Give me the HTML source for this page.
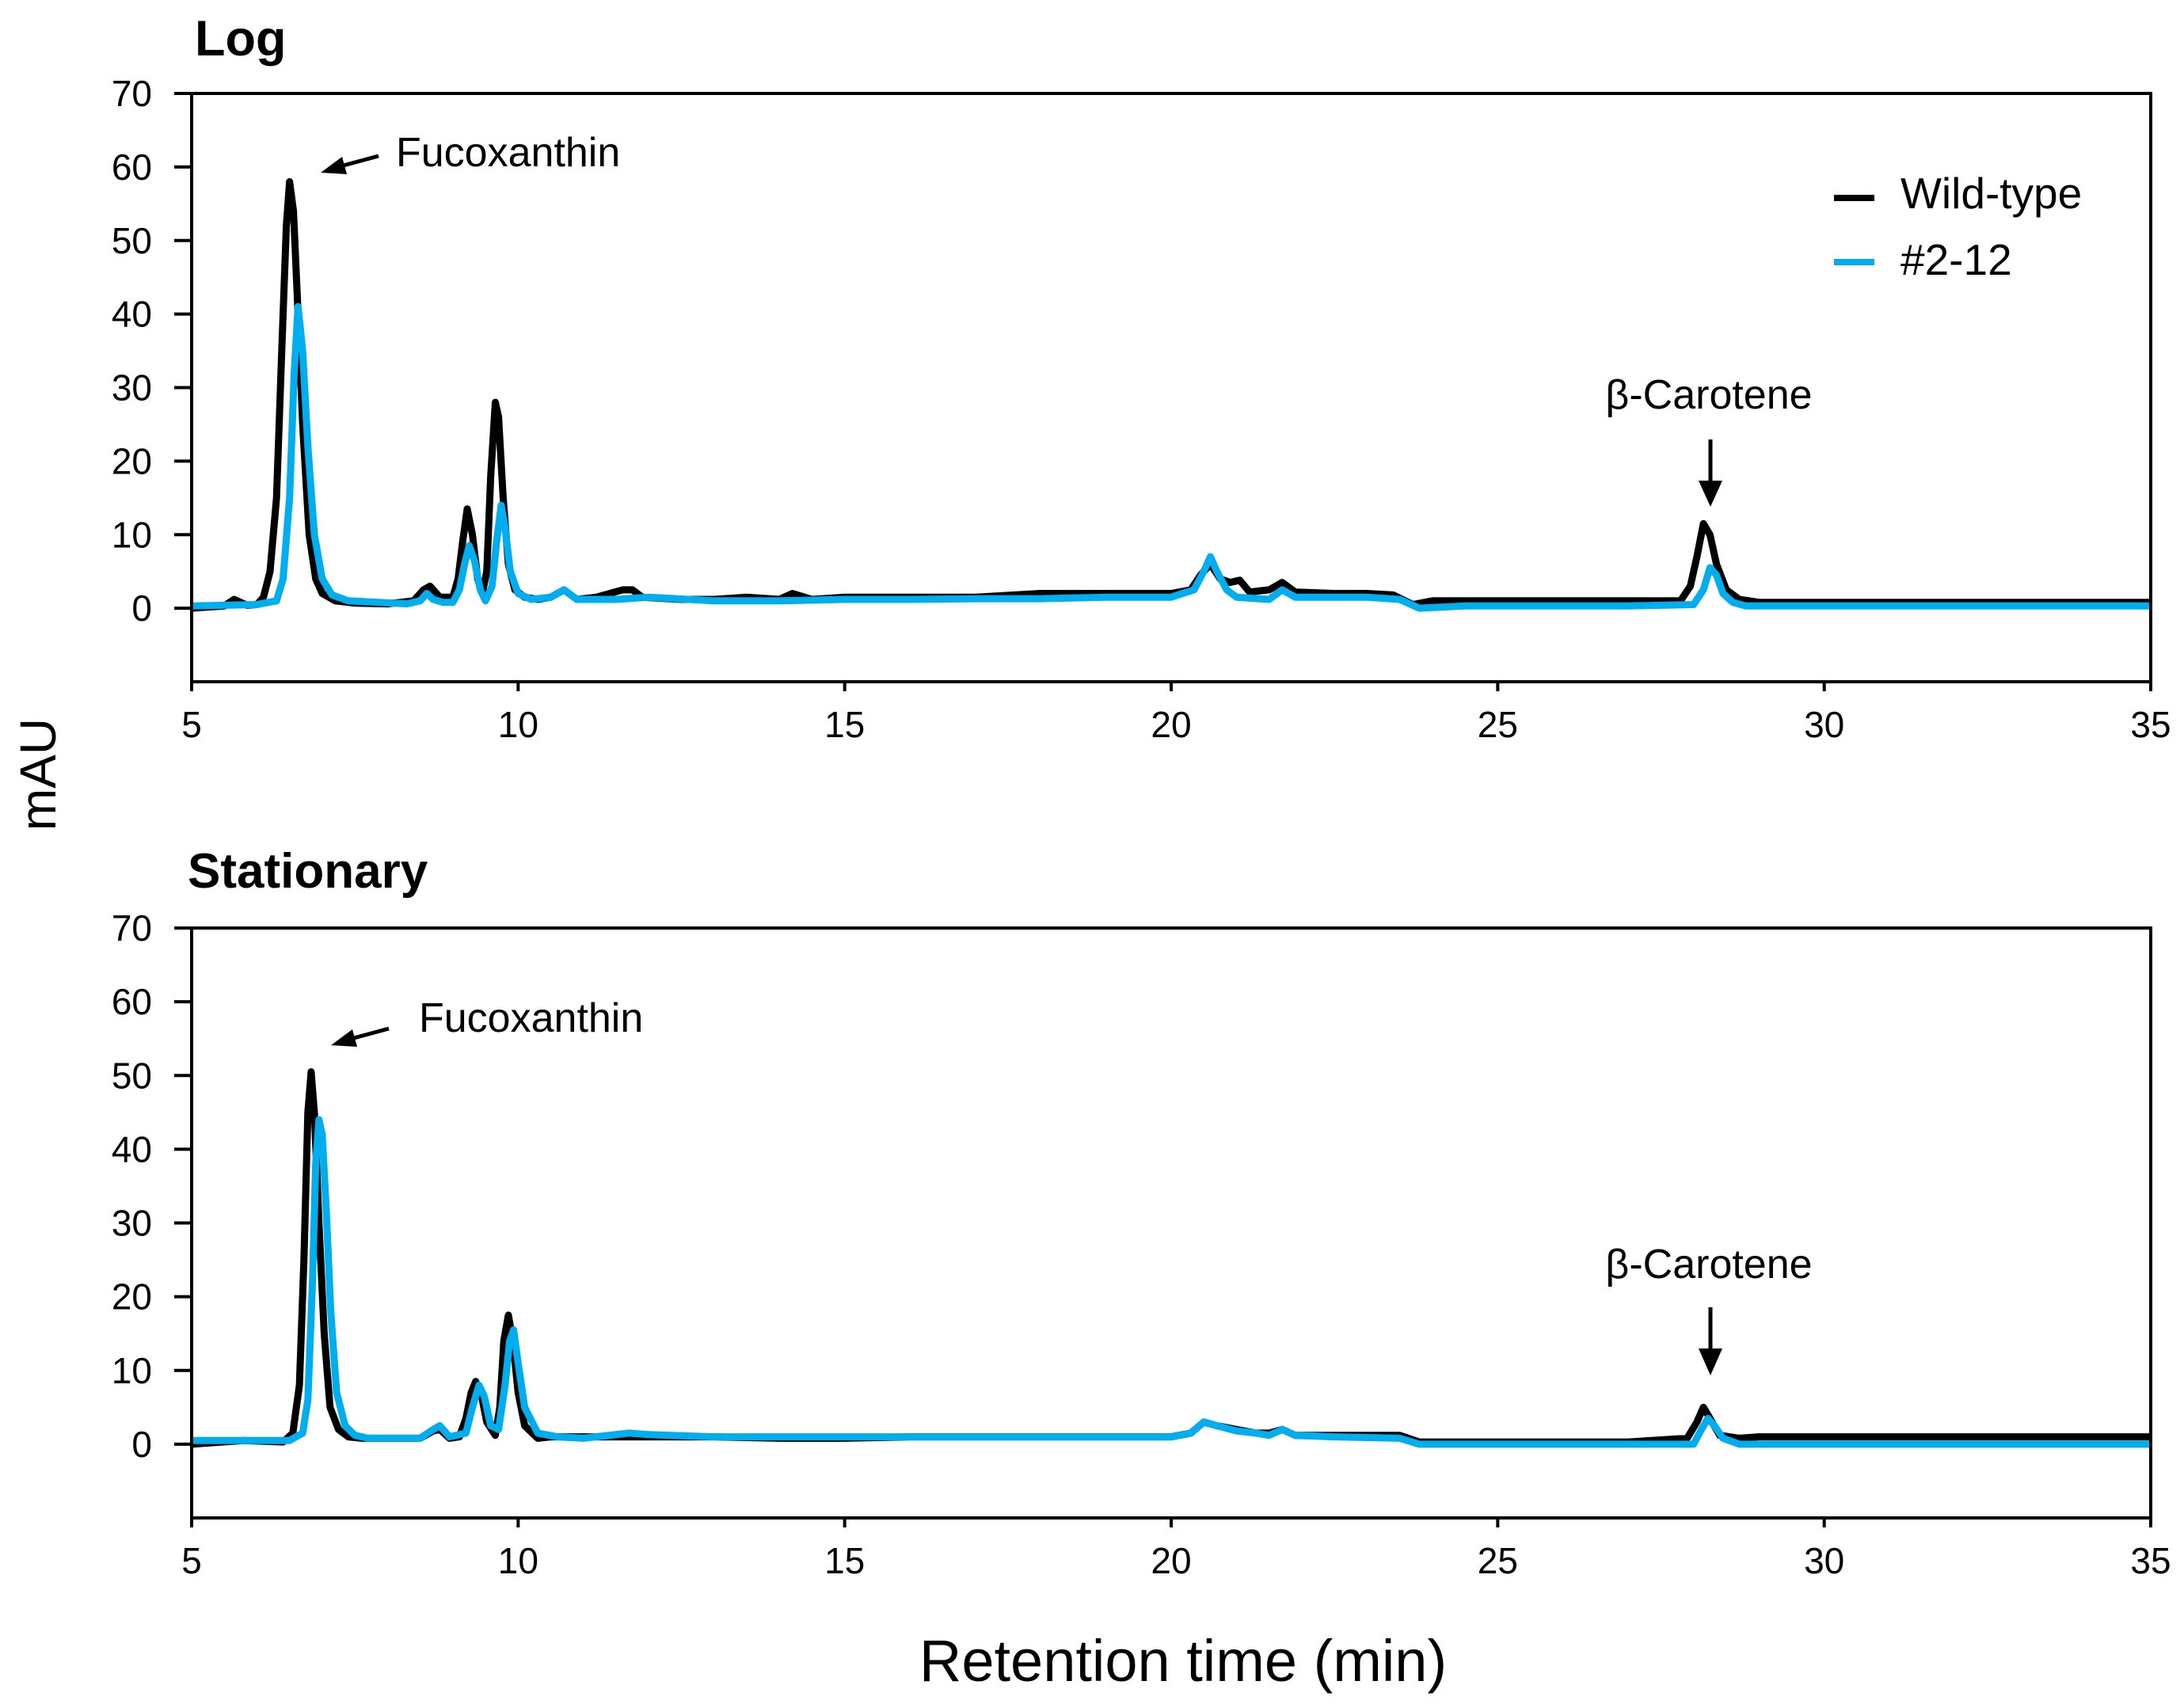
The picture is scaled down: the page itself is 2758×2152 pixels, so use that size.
<!DOCTYPE html>
<html><head><meta charset="utf-8"><style>
html,body{margin:0;padding:0;background:#fff;}
svg{display:block;font-family:"Liberation Sans",sans-serif;}
</style></head><body>
<svg id="chart" width="2758" height="2152" viewBox="0 0 2758 2152" xmlns="http://www.w3.org/2000/svg">
<g id="g"></g>
</svg>
<script>
// ---- data ----
const xTicks = [5,10,15,20,25,30,35];
const yTicks = [0,10,20,30,40,50,60,70];
const logWtT = [5,5.5,5.65,5.75,5.85,6.0,6.1,6.2,6.3,6.38,6.45,6.5,6.56,6.62,6.7,6.8,6.9,7.0,7.2,7.5,8,8.4,8.55,8.65,8.8,9.0,9.08,9.15,9.22,9.3,9.38,9.45,9.52,9.58,9.65,9.7,9.77,9.85,9.95,10.1,10.3,10.5,10.7,10.9,11.2,11.6,11.75,11.9,12.5,13,13.5,14,14.2,14.5,15,16,17,18,19,20,20.3,20.45,20.6,20.75,20.9,21.05,21.2,21.5,21.7,21.9,22.5,23,23.4,23.7,24,25,27,27.8,27.95,28.05,28.15,28.25,28.35,28.5,28.7,29,30,35];
const logWtV = [0,0.3,1.2,0.8,0.4,0.5,1.5,5,15,35,52,58,54,42,25,10,4,2,1,0.7,0.6,1,2.5,3,1.5,1.5,4,9,13.5,10,4,2,5,18,28,26,15,6,2.5,1.5,1.2,1.5,2.5,1.2,1.5,2.5,2.5,1.5,1.2,1.2,1.5,1.2,2,1.2,1.5,1.5,1.5,2,2,2,2.5,4.5,6,4,3.5,3.8,2.2,2.5,3.5,2.2,2,2,1.8,0.5,1,1,1,1,3,7,11.5,10,6,2.5,1.2,0.8,0.8,0.8];
const logMuT = [5,6.0,6.3,6.4,6.5,6.57,6.63,6.7,6.78,6.88,7.0,7.15,7.4,8.3,8.5,8.6,8.7,8.85,9.0,9.1,9.18,9.25,9.33,9.42,9.5,9.6,9.67,9.74,9.8,9.88,10.0,10.2,10.5,10.7,10.9,11.5,12,13,14,15,16,17,18,19,20,20.35,20.5,20.6,20.7,20.85,21,21.5,21.7,21.9,23,23.5,23.8,24.5,27,28.0,28.15,28.25,28.35,28.45,28.6,28.8,30,35];
const logMuV = [0.3,0.5,1,4,15,32,41,35,22,10,4,1.8,1,0.6,1,2,1.2,0.8,0.8,2.5,6,8.5,6.5,2.5,1,3,9,14,11,5,2,1.2,1.5,2.5,1.2,1.2,1.5,1,1,1.2,1.2,1.3,1.3,1.5,1.5,2.5,5,7,5,2.5,1.5,1.2,2.5,1.5,1.5,1.2,0,0.3,0.3,0.5,2.5,5.5,4.5,2,0.8,0.3,0.3,0.3];
const statWtT = [5,5.8,6.4,6.55,6.65,6.72,6.78,6.83,6.88,6.95,7.03,7.12,7.25,7.4,7.6,8.5,8.7,8.8,8.95,9.1,9.2,9.28,9.35,9.43,9.52,9.65,9.72,9.78,9.85,9.92,10.0,10.1,10.3,10.5,11,12,13,14,15,16,17,18,19,20,20.3,20.5,20.7,21,21.3,21.5,21.7,21.9,22.5,23.5,23.8,25,27,27.9,28.05,28.15,28.25,28.4,28.7,29,35];
const statWtV = [0,0.5,0.3,1.5,8,25,45,50.5,45,30,15,5,2,1,0.8,0.8,1.8,2,0.8,1,3.5,7,8.5,7,3,1.2,5,14,17.5,14,7,2.5,0.8,1,1,1,1,0.8,0.8,1,1,1,1,1,1.5,3,2.5,2,1.5,1.5,2,1.2,1.2,1.2,0.3,0.3,0.3,0.8,3,5,3.5,1.2,0.8,1,1];
const statMuT = [5,6.5,6.7,6.78,6.85,6.9,6.95,7.0,7.06,7.13,7.22,7.35,7.5,7.7,8.5,8.7,8.8,8.95,9.2,9.3,9.4,9.48,9.58,9.7,9.8,9.87,9.93,10.0,10.1,10.3,10.6,11,11.7,12,13,15,17,19,20,20.3,20.5,20.7,21,21.3,21.5,21.7,21.9,22.5,23.5,23.8,25,28,28.12,28.22,28.32,28.45,28.7,35];
const statMuV = [0.5,0.5,1.5,6,22,38,44,42,32,18,7,2.5,1.2,0.8,0.8,2,2.5,1,1.5,5,8,6.5,2.5,2,8,14,15.5,11,5,1.5,1,0.8,1.5,1.3,1,1,1,1,1,1.5,3,2.5,1.8,1.5,1.2,2,1.2,1,0.8,0,0,0,2,3.5,2.5,0.8,0,0];

const NS="http://www.w3.org/2000/svg";
const G=document.getElementById('g');
const L=242,R=2716;
function el(tag,attrs,parent){const e=document.createElementNS(NS,tag);for(const k in attrs)e.setAttribute(k,attrs[k]);(parent||G).appendChild(e);return e;}
const xs=t=>L+(t-5)/30*(R-L);

function panel(top,bot,key,wtT,wtV,muT,muV){
  const ys=v=>bot-(v+10)/80*(bot-top);
  const g=el('g',{});
  
  
  const pts=(T,V)=>T.map((t,i)=>xs(t).toFixed(1)+','+ys(V[i]).toFixed(1)).join(' ');
  const w=el('polyline',{points:pts(wtT,wtV),fill:'none',stroke:'#000','stroke-width':9,'stroke-linejoin':'round'},g);
  
  
  const m=el('polyline',{points:pts(muT,muV),fill:'none',stroke:'#00AEEF','stroke-width':9,'stroke-linejoin':'round'},g);
  
  
  const frame=el('rect',{x:L,y:top,width:R-L,height:bot-top,fill:'none',stroke:'#000','stroke-width':4},g);
  
  
  yTicks.forEach(v=>{
    const tk=el('line',{x1:L-22,x2:L,y1:ys(v),y2:ys(v),stroke:'#000','stroke-width':4},g);
    
    
    const tx=el('text',{x:L-50,y:ys(v)+16,'text-anchor':'end','font-size':46},g);
    tx.textContent=v;
    
    
  });
  xTicks.forEach(t=>{
    const tk=el('line',{x1:xs(t),x2:xs(t),y1:bot,y2:bot+12,stroke:'#000','stroke-width':4},g);
    
    
    const tx=el('text',{x:xs(t),y:bot+70,'text-anchor':'middle','font-size':46},g);
    tx.textContent=t;
    
    
  });
}
panel(118,861,'log',logWtT,logWtV,logMuT,logMuV);
panel(1172,1917,'stationary',statWtT,statWtV,statMuT,statMuV);
</script>
<svg width="2758" height="2152" style="position:absolute;left:0;top:0" xmlns="http://www.w3.org/2000/svg" font-family="Liberation Sans, sans-serif">
<text x="246" y="70" font-size="63" font-weight="bold">Log</text>
<text x="237" y="1121" font-size="62" font-weight="bold">Stationary</text>
<text x="500" y="210" font-size="52">Fucoxanthin</text>
<g>
<line x1="478" y1="197" x2="430" y2="210" stroke="#000" stroke-width="5"/>
<polygon points="405,218 432,198 438,220" fill="#000"/>
</g>
<text x="529" y="1303" font-size="52">Fucoxanthin</text>
<g>
<line x1="491" y1="1299" x2="443" y2="1312" stroke="#000" stroke-width="5"/>
<polygon points="418,1320 445,1300 451,1322" fill="#000"/>
</g>
<text x="2158" y="516" font-size="52" text-anchor="middle">β-Carotene</text>
<g>
<line x1="2160" y1="555" x2="2160" y2="610" stroke="#000" stroke-width="5"/>
<polygon points="2145,607 2175,607 2160,640" fill="#000"/>
</g>
<text x="2158" y="1614" font-size="52" text-anchor="middle">β-Carotene</text>
<g>
<line x1="2160" y1="1651" x2="2160" y2="1706" stroke="#000" stroke-width="5"/>
<polygon points="2145,1703 2175,1703 2160,1737" fill="#000"/>
</g>
<g>
<line x1="2316" y1="250" x2="2367" y2="250" stroke="#000" stroke-width="8"/>
<text x="2400" y="263" font-size="55">Wild-type</text>
<line x1="2316" y1="331" x2="2367" y2="331" stroke="#00AEEF" stroke-width="8"/>
<text x="2400" y="347" font-size="55">#2-12</text>
</g>
<text x="1494" y="2123" font-size="74" text-anchor="middle">Retention time (min)</text>
<text transform="translate(70,978) rotate(-90)" font-size="64" text-anchor="middle">mAU</text>
</svg>
</body></html>
